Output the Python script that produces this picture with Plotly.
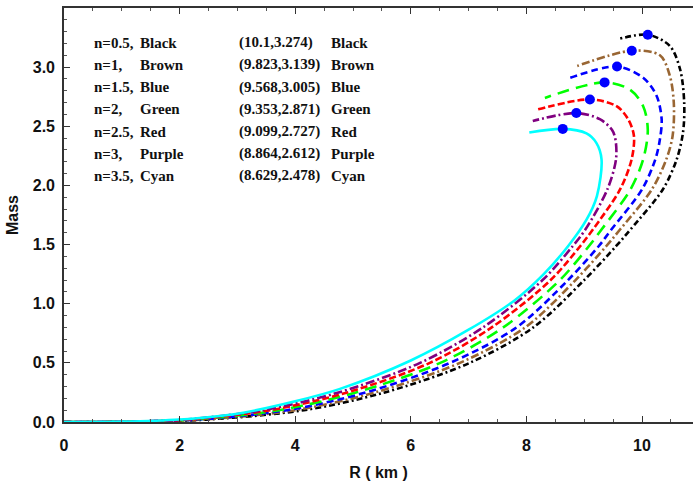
import plotly.graph_objects as go

# ---- data ----
names = ["Black", "Brown", "Blue", "Green", "Red", "Purple", "Cyan"]
n_labels = ["n=0.5,", "n=1,", "n=1.5,", "n=2,", "n=2.5,", "n=3,", "n=3.5,"]
colors = ["#000000", "#996633", "#0000FF", "#00FF00", "#FF0000", "#800080", "#00FFFF"]
dashes = ["6px,3px,2px,3px", "8px,3px,2px,3px", "7px,4px", "12px,7px", "7px,3px", "9px,3px,2px,3px", "solid"]

r_black = [0, 1.3, 2.45, 4.15, 5.55, 7.02, 8.12, 9.0, 9.55, 9.80, 10.36, 10.60, 10.71, 10.73, 10.66, 10.48, 10.1, 9.59]
m_black = [0, 0.003, 0.02, 0.1, 0.25, 0.5, 0.8, 1.2, 1.486, 1.627, 1.966, 2.22, 2.45, 2.70, 2.98, 3.18, 3.274, 3.237]

r_brown = [0, 1.25, 2.38, 4.0, 5.38, 6.85, 7.98, 8.85, 9.38, 9.62, 10.17, 10.42, 10.53, 10.55, 10.48, 10.31, 9.823, 8.88]
m_brown = [0, 0.003, 0.02, 0.1, 0.25, 0.5, 0.8, 1.2, 1.486, 1.627, 1.966, 2.22, 2.42, 2.70, 2.93, 3.10, 3.139, 3.01]

r_blue = [0, 1.2, 2.3, 3.86, 5.22, 6.68, 7.83, 8.72, 9.25, 9.47, 10.0, 10.23, 10.31, 10.34, 10.25, 10.02, 9.568, 8.70]
m_blue = [0, 0.003, 0.02, 0.1, 0.25, 0.5, 0.8, 1.2, 1.486, 1.627, 1.966, 2.22, 2.39, 2.56, 2.76, 2.91, 3.005, 2.90]

r_green = [0, 1.15, 2.22, 3.72, 5.05, 6.51, 7.60, 8.58, 9.08, 9.30, 9.80, 10.02, 10.10, 10.02, 9.79, 9.353, 8.32]
m_green = [0, 0.003, 0.02, 0.1, 0.25, 0.5, 0.8, 1.2, 1.486, 1.627, 1.966, 2.22, 2.47, 2.67, 2.81, 2.871, 2.74]

r_red = [0, 1.1, 2.15, 3.57, 4.90, 6.33, 7.40, 8.42, 8.93, 9.15, 9.62, 9.82, 9.86, 9.76, 9.56, 9.099, 8.18]
m_red = [0, 0.003, 0.02, 0.1, 0.25, 0.5, 0.8, 1.2, 1.486, 1.627, 1.966, 2.22, 2.42, 2.56, 2.67, 2.727, 2.64]

r_purple = [0, 1.05, 2.07, 3.44, 4.75, 6.16, 7.25, 8.28, 8.80, 9.02, 9.40, 9.55, 9.54, 9.48, 9.27, 8.864, 8.11]
m_purple = [0, 0.003, 0.02, 0.1, 0.25, 0.5, 0.8, 1.2, 1.486, 1.627, 1.966, 2.22, 2.39, 2.47, 2.56, 2.612, 2.545]

r_cyan = [0, 1.0, 2.0, 3.0, 4.0, 4.775, 6.0, 7.0, 7.8, 8.3, 8.72, 9.04, 9.22, 9.30, 9.21, 9.04, 8.629, 8.05]
m_cyan = [0, 0.003, 0.021, 0.07, 0.175, 0.28, 0.52, 0.78, 1.03, 1.25, 1.486, 1.71, 1.91, 2.22, 2.36, 2.44, 2.478, 2.447]

max_r = [10.1, 9.823, 9.568, 9.353, 9.099, 8.864, 8.629]
max_m = [3.274, 3.139, 3.005, 2.871, 2.727, 2.612, 2.478]
max_labels = ["(10.1,3.274)", "(9.823,3.139)", "(9.568,3.005)", "(9.353,2.871)",
              "(9.099,2.727)", "(8.864,2.612)", "(8.629,2.478)"]

x_ticks = [0, 2, 4, 6, 8, 10]
y_ticks = [0.0, 0.5, 1.0, 1.5, 2.0, 2.5, 3.0, 3.5]

curves_r = [r_black, r_brown, r_blue, r_green, r_red, r_purple, r_cyan]
curves_m = [m_black, m_brown, m_blue, m_green, m_red, m_purple, m_cyan]

# ---- figure ----
W, H = 693, 483
ML, MR, MT, MB = 64, 0, 8, 61
PW, PH = W - ML - MR, H - MT - MB
XMAX = 10.0 * PW / 578.0

fig = go.Figure()
for r, m, c, d, nm in zip(curves_r, curves_m, colors, dashes, names):
    fig.add_trace(go.Scatter(x=r, y=m, mode="lines", name=nm,
                             line=dict(color=c, width=2.6, dash=d, shape="spline", smoothing=0.9),
                             showlegend=False, hoverinfo="skip"))

fig.add_trace(go.Scatter(x=max_r, y=max_m, mode="markers",
                         marker=dict(color="#0000FF", size=10), showlegend=False))

def px_x(p):
    return (p - ML) / PW

def px_y(p):
    return (H - MB - p) / PH

serif = dict(family="Liberation Serif", size=15, color="#111111")
row0, step = 42.7, 22.2
for i in range(7):
    yy = px_y(row0 + i * step)
    fig.add_annotation(x=px_x(92), y=yy, xref="paper", yref="paper", text="<b>%s</b>" % n_labels[i],
                       showarrow=False, xanchor="left", yanchor="middle", font=serif)
    fig.add_annotation(x=px_x(138), y=yy, xref="paper", yref="paper", text="<b>%s</b>" % names[i],
                       showarrow=False, xanchor="left", yanchor="middle", font=serif)
    fig.add_annotation(x=px_x(237), y=yy, xref="paper", yref="paper", text="<b>%s</b>" % max_labels[i],
                       showarrow=False, xanchor="left", yanchor="middle", font=serif)
    fig.add_annotation(x=px_x(329), y=yy, xref="paper", yref="paper", text="<b>%s</b>" % names[i],
                       showarrow=False, xanchor="left", yanchor="middle", font=serif)

axis_font = dict(family="Liberation Sans", size=16, color="#111111")
fig.update_layout(
    width=W, height=H,
    margin=dict(l=ML, r=MR, t=MT, b=MB, pad=0),
    plot_bgcolor="white", paper_bgcolor="white",
    xaxis=dict(range=[0, XMAX], tickvals=x_ticks, ticktext=["<b>%d</b>" % v for v in x_ticks],
               ticks="inside", ticklen=6, tickwidth=1, tickcolor="#333333",
               showline=True, linecolor="#333333", linewidth=1.6, mirror="ticks",
               showgrid=False, zeroline=False, tickfont=axis_font, ticklabelstandoff=8,
               minor=dict(dtick=0.5, ticks="inside", ticklen=3, tickcolor="#555555", showgrid=False),
               title=dict(text="<b>R ( km )</b>", font=dict(family="Liberation Sans", size=16, color="#111111"),
                          standoff=14)),
    yaxis=dict(range=[0, 3.5], tickvals=y_ticks, ticktext=["<b>%.1f</b>" % v for v in y_ticks],
               ticks="inside", ticklen=6, tickwidth=1, tickcolor="#333333",
               showline=True, linecolor="#333333", linewidth=1.6,
               showgrid=False, zeroline=False, tickfont=axis_font, ticklabelstandoff=4,
               minor=dict(dtick=0.1, ticks="inside", ticklen=3, tickcolor="#555555", showgrid=False),
               title=dict(text="<b>Mass</b>", font=dict(family="Liberation Sans", size=16, color="#111111"),
                          standoff=10)),
)

fig.write_html("out.html", config={"displayModeBar": False},
               post_script="document.body.style.margin='0';")
